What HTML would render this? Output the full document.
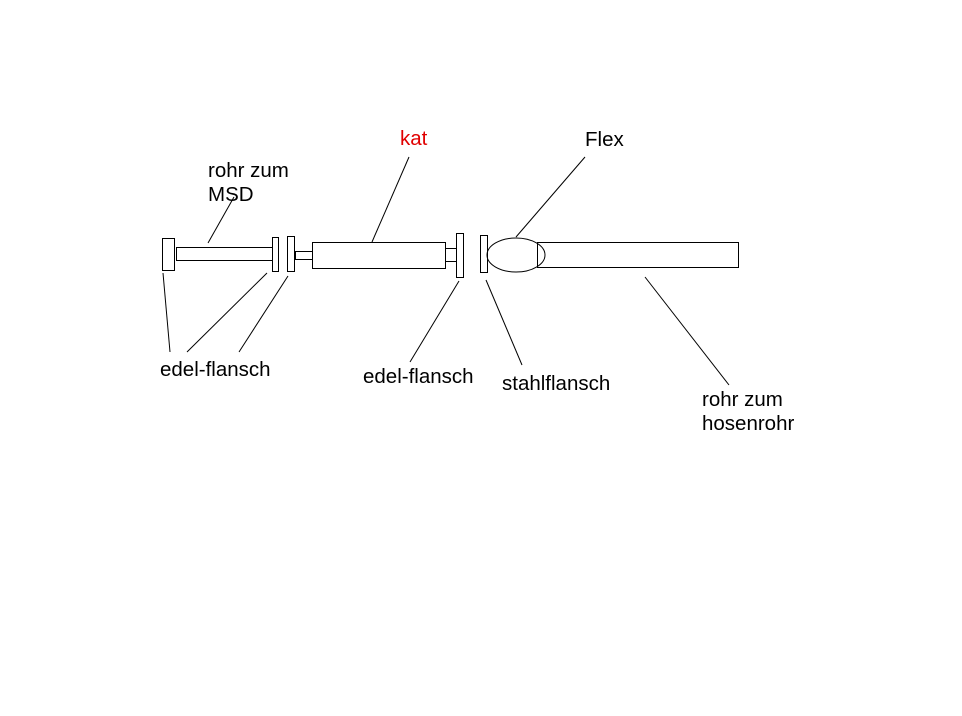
<!DOCTYPE html>
<html><head><style>
html,body{margin:0;padding:0;background:#fff;}
svg{display:block}
text{font-family:"Liberation Sans",sans-serif;font-size:20.5px;fill:#000}
</style></head><body>
<svg width="962" height="716" viewBox="0 0 962 716" xmlns="http://www.w3.org/2000/svg">
<g fill="#fff" stroke="#000" stroke-width="1">
<rect x="162.5" y="238.5" width="12" height="32"/>
<rect x="176.5" y="247.5" width="96" height="13"/>
<rect x="272.5" y="237.5" width="6" height="34"/>
<rect x="287.5" y="236.5" width="7" height="35"/>
<rect x="295.5" y="251.5" width="17" height="8"/>
<rect x="312.5" y="242.5" width="133" height="26"/>
<rect x="445.5" y="248.5" width="11" height="13"/>
<rect x="456.5" y="233.5" width="7" height="44"/>
<rect x="480.5" y="235.5" width="7" height="37"/>
<rect x="537.5" y="242.5" width="201" height="25"/>
<ellipse cx="516" cy="255" rx="29" ry="17" fill="none"/>
</g>
<g stroke="#000" stroke-width="1">
<line x1="208" y1="243" x2="234" y2="197"/>
<line x1="372" y1="242" x2="409" y2="157"/>
<line x1="516" y1="237" x2="585" y2="157"/>
<line x1="163" y1="273" x2="170" y2="352"/>
<line x1="187" y1="352" x2="267" y2="273"/>
<line x1="239" y1="352" x2="288" y2="276"/>
<line x1="410" y1="362" x2="459" y2="281"/>
<line x1="486" y1="280" x2="522" y2="365"/>
<line x1="645" y1="277" x2="729" y2="385"/>
</g>
<text x="208" y="177">rohr zum</text>
<text x="208" y="201">MSD</text>
<text x="400" y="145" style="fill:#e00000">kat</text>
<text x="585" y="146">Flex</text>
<text x="160" y="376">edel-flansch</text>
<text x="363" y="383">edel-flansch</text>
<text x="502" y="390">stahlflansch</text>
<text x="702" y="406">rohr zum</text>
<text x="702" y="430">hosenrohr</text>
</svg>
</body></html>
